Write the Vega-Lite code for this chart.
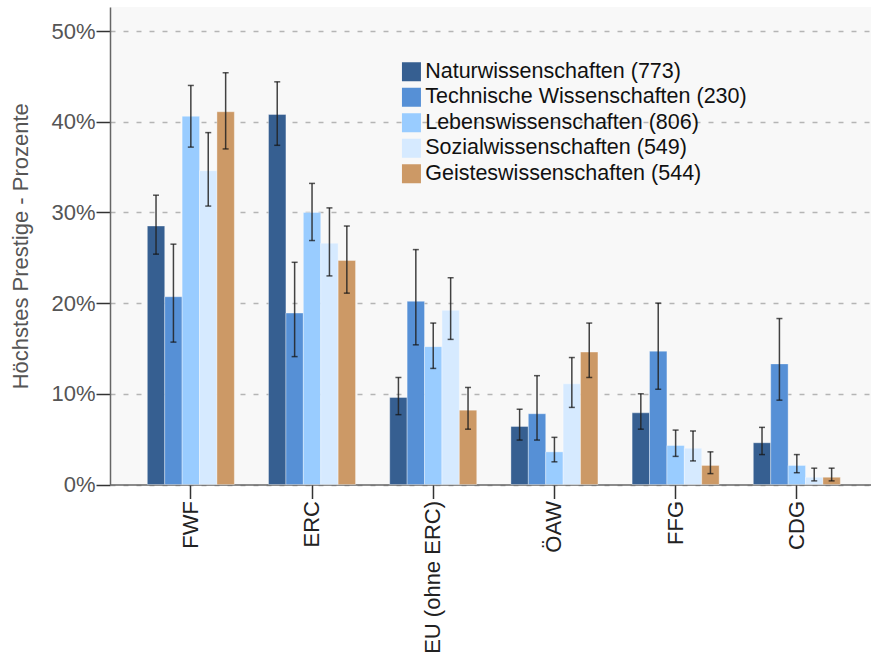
{
  "$schema": "https://vega.github.io/schema/vega-lite/v6.json",
  "autosize": {"type": "none"},
  "padding": {"left": 110, "top": 7, "right": 0, "bottom": 173},
  "width": 761,
  "height": 477.5,
  "background": "white",
  "config": {
    "font": "Liberation Sans",
    "view": {"fill": "#f8f8f8", "stroke": null}
  },
  "data": {"values": [
    {"org": "FWF", "fach": "Naturwissenschaften (773)", "v": 28.5, "lo": 25.4, "hi": 31.9},
    {"org": "FWF", "fach": "Technische Wissenschaften (230)", "v": 20.7, "lo": 15.7, "hi": 26.5},
    {"org": "FWF", "fach": "Lebenswissenschaften (806)", "v": 40.6, "lo": 37.2, "hi": 44.0},
    {"org": "FWF", "fach": "Sozialwissenschaften (549)", "v": 34.6, "lo": 30.7, "hi": 38.8},
    {"org": "FWF", "fach": "Geisteswissenschaften (544)", "v": 41.1, "lo": 37.0, "hi": 45.4},
    {"org": "ERC", "fach": "Naturwissenschaften (773)", "v": 40.8, "lo": 37.4, "hi": 44.4},
    {"org": "ERC", "fach": "Technische Wissenschaften (230)", "v": 18.9, "lo": 14.1, "hi": 24.5},
    {"org": "ERC", "fach": "Lebenswissenschaften (806)", "v": 30.0, "lo": 26.9, "hi": 33.2},
    {"org": "ERC", "fach": "Sozialwissenschaften (549)", "v": 26.6, "lo": 23.0, "hi": 30.5},
    {"org": "ERC", "fach": "Geisteswissenschaften (544)", "v": 24.7, "lo": 21.1, "hi": 28.5},
    {"org": "EU (ohne ERC)", "fach": "Naturwissenschaften (773)", "v": 9.6, "lo": 7.7, "hi": 11.8},
    {"org": "EU (ohne ERC)", "fach": "Technische Wissenschaften (230)", "v": 20.2, "lo": 15.4, "hi": 25.9},
    {"org": "EU (ohne ERC)", "fach": "Lebenswissenschaften (806)", "v": 15.2, "lo": 12.8, "hi": 17.8},
    {"org": "EU (ohne ERC)", "fach": "Sozialwissenschaften (549)", "v": 19.2, "lo": 16.0, "hi": 22.8},
    {"org": "EU (ohne ERC)", "fach": "Geisteswissenschaften (544)", "v": 8.2, "lo": 6.1, "hi": 10.7},
    {"org": "ÖAW", "fach": "Naturwissenschaften (773)", "v": 6.4, "lo": 4.9, "hi": 8.3},
    {"org": "ÖAW", "fach": "Technische Wissenschaften (230)", "v": 7.8, "lo": 4.9, "hi": 12.0},
    {"org": "ÖAW", "fach": "Lebenswissenschaften (806)", "v": 3.6, "lo": 2.5, "hi": 5.2},
    {"org": "ÖAW", "fach": "Sozialwissenschaften (549)", "v": 11.1, "lo": 8.5, "hi": 14.0},
    {"org": "ÖAW", "fach": "Geisteswissenschaften (544)", "v": 14.6, "lo": 11.8, "hi": 17.8},
    {"org": "FFG", "fach": "Naturwissenschaften (773)", "v": 7.9, "lo": 6.1, "hi": 10.0},
    {"org": "FFG", "fach": "Technische Wissenschaften (230)", "v": 14.7, "lo": 10.5, "hi": 20.0},
    {"org": "FFG", "fach": "Lebenswissenschaften (806)", "v": 4.3, "lo": 3.1, "hi": 6.0},
    {"org": "FFG", "fach": "Sozialwissenschaften (549)", "v": 4.0, "lo": 2.6, "hi": 5.9},
    {"org": "FFG", "fach": "Geisteswissenschaften (544)", "v": 2.1, "lo": 1.2, "hi": 3.6},
    {"org": "CDG", "fach": "Naturwissenschaften (773)", "v": 4.6, "lo": 3.3, "hi": 6.3},
    {"org": "CDG", "fach": "Technische Wissenschaften (230)", "v": 13.3, "lo": 9.3, "hi": 18.3},
    {"org": "CDG", "fach": "Lebenswissenschaften (806)", "v": 2.1, "lo": 1.3, "hi": 3.3},
    {"org": "CDG", "fach": "Sozialwissenschaften (549)", "v": 0.8, "lo": 0.4, "hi": 1.8},
    {"org": "CDG", "fach": "Geisteswissenschaften (544)", "v": 0.8, "lo": 0.4, "hi": 1.8}
  ]},
  "encoding": {
    "x": {
      "field": "org", "type": "nominal",
      "sort": ["FWF", "ERC", "EU (ohne ERC)", "ÖAW", "FFG", "CDG"],
      "scale": {"paddingInner": 0.282, "paddingOuter": 0.2805, "align": 0.549},
      "axis": {
        "title": null, "labelAngle": -90, "labelFontSize": 22, "labelColor": "#222",
        "tickSize": 14, "tickColor": "#333", "tickWidth": 1.5,
        "domainColor": "#666", "domainWidth": 1.5, "labelPadding": 2, "grid": false
      }
    },
    "xOffset": {
      "field": "fach", "type": "nominal",
      "sort": ["Naturwissenschaften (773)", "Technische Wissenschaften (230)", "Lebenswissenschaften (806)", "Sozialwissenschaften (549)", "Geisteswissenschaften (544)"],
      "scale": {"paddingInner": 0, "paddingOuter": 0}
    }
  },
  "layer": [
    {
      "mark": {"type": "bar", "stroke": "white", "strokeOpacity": 0.35, "strokeWidth": 1},
      "encoding": {
        "y": {
          "field": "v", "type": "quantitative",
          "scale": {"domain": [0, 52.65], "nice": false},
          "axis": {
            "values": [0, 10, 20, 30, 40, 50],
            "labelExpr": "datum.value + '%'",
            "labelFontSize": 22, "labelColor": "#555", "labelPadding": 1,
            "tickSize": 14, "tickColor": "#333", "tickWidth": 1.5,
            "domainColor": "#666", "domainWidth": 1.5,
            "grid": true, "gridColor": "#b5b5b5", "gridDash": [5, 8], "gridWidth": 1.5,
            "title": "Höchstes Prestige - Prozente",
            "titleFontSize": 22, "titleFontWeight": "normal", "titleColor": "#555", "titlePadding": 18
          }
        },
        "color": {
          "field": "fach", "type": "nominal",
          "sort": ["Naturwissenschaften (773)", "Technische Wissenschaften (230)", "Lebenswissenschaften (806)", "Sozialwissenschaften (549)", "Geisteswissenschaften (544)"],
          "scale": {"range": ["#365f91", "#5690d6", "#99ccff", "#d6eaff", "#cc9966"]},
          "legend": {
            "title": null, "orient": "none", "legendX": 290.7, "legendY": 54,
            "padding": 0, "symbolType": "square", "symbolSize": 361,
            "symbolStrokeWidth": 0, "labelFontSize": 21.5, "labelColor": "#111",
            "labelOffset": 3, "rowPadding": 2.5, "labelLimit": 500
          }
        }
      }
    },
    {
      "mark": {"type": "rule", "color": "#222", "strokeWidth": 1.5, "opacity": 0.85},
      "encoding": {
        "y": {"field": "lo", "type": "quantitative"},
        "y2": {"field": "hi"}
      }
    },
    {
      "mark": {"type": "tick", "color": "#111", "thickness": 1.5, "size": 6, "orient": "horizontal"},
      "encoding": {"y": {"field": "lo", "type": "quantitative"}}
    },
    {
      "mark": {"type": "tick", "color": "#111", "thickness": 1.5, "size": 6, "orient": "horizontal"},
      "encoding": {"y": {"field": "hi", "type": "quantitative"}}
    }
  ]
}
